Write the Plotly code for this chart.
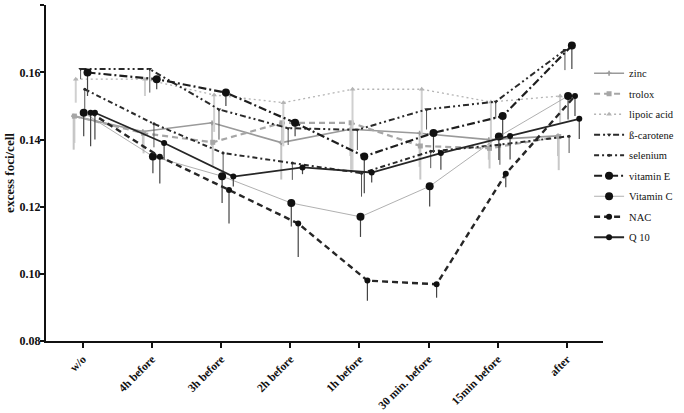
import plotly.graph_objects as go

categories = ["w/o", "4h before", "3h before", "2h before", "1h before",
              "30 min. before", "15min before", "after"]

zinc = [0.147, 0.1424, 0.145, 0.1391, 0.1431, 0.1419, 0.140, 0.1411]
trolox = [0.147, 0.1419, 0.1392, 0.145, 0.145, 0.1381, 0.1374, 0.1409]
lipoic_acid = [0.158, 0.158, 0.1533, 0.151, 0.155, 0.155, 0.1512, 0.153]
beta_carotene = [0.161, 0.161, 0.149, 0.1434, 0.1429, 0.149, 0.1513, 0.1667]
selenium = [0.155, 0.1447, 0.136, 0.133, 0.130, 0.1365, 0.1385, 0.141]
vitamin_e = [0.160, 0.158, 0.154, 0.145, 0.135, 0.142, 0.147, 0.168]
vitamin_c = [0.148, 0.135, 0.1291, 0.1211, 0.117, 0.1261, 0.1409, 0.153]
nac = [0.148, 0.1349, 0.125, 0.115, 0.098, 0.0969, 0.1298, 0.153]
q10 = [0.148, 0.139, 0.129, 0.1317, 0.1302, 0.136, 0.1411, 0.1462]

err_zinc = [0.010, 0.005, 0.007, 0.011, 0.008, 0.010, 0.006, 0.006]
err_trolox = [0.008, 0.006, 0.007, 0.006, 0.014, 0.010, 0.006, 0.010]
err_lipoic = [0.007, 0.005, 0.011, 0.013, 0.024, 0.014, 0.013, 0.008]
err_beta = [0.003, 0.007, 0.009, 0.005, 0.006, 0.006, 0.005, 0.006]
err_selenium = [0.007, 0.007, 0.007, 0.005, 0.007, 0.005, 0.006, 0.005]
err_vit_e = [0.007, 0.003, 0.004, 0.004, 0.011, 0.006, 0.007, 0.007]
err_vit_c = [0.007, 0.005, 0.008, 0.007, 0.006, 0.006, 0.007, 0.007]
err_nac = [0.010, 0.008, 0.010, 0.010, 0.006, 0.004, 0.004, 0.006]
err_q10 = [0.008, 0.005, 0.003, 0.002, 0.003, 0.005, 0.007, 0.006]

series = [
    ("zinc", zinc, err_zinc),
    ("trolox", trolox, err_trolox),
    ("lipoic acid", lipoic_acid, err_lipoic),
    ("ß-carotene", beta_carotene, err_beta),
    ("selenium", selenium, err_selenium),
    ("vitamin E", vitamin_e, err_vit_e),
    ("Vitamin C", vitamin_c, err_vit_c),
    ("NAC", nac, err_nac),
    ("Q 10", q10, err_q10),
]

# styles: (x offset, line color, width, dash, marker symbol, marker size, marker color, error color, error width)
styles = {
    "zinc": (-0.13, "#9a9a9a", 1.6, "solid", "cross", 4, "#9a9a9a", "#c4c4c4", 2),
    "trolox": (-0.12, "#a6a6a6", 2.2, "6px,4px", "square", 5, "#a6a6a6", "#c8c8c8", 2),
    "lipoic acid": (-0.10, "#b4b4b4", 1.3, "2px,3px", "triangle-up", 5, "#b4b4b4", "#d0d0d0", 2),
    "ß-carotene": (-0.03, "#2a2a2a", 2.0, "6px,3px,2px,3px,2px,3px", "triangle-down", 4, "#2a2a2a", "#555555", 1),
    "selenium": (0.03, "#2a2a2a", 2.0, "5px,3px,2px,3px", "circle", 3, "#2a2a2a", "#555555", 1),
    "vitamin E": (0.07, "#1e1e1e", 2.2, "8px,3px,2px,3px", "circle", 8, "#111111", "#444444", 1.2),
    "Vitamin C": (0.015, "#9c9c9c", 0.8, "solid", "circle", 8, "#111111", "#444444", 1.2),
    "NAC": (0.115, "#262626", 2.4, "6px,4px", "circle", 6, "#111111", "#444444", 1.2),
    "Q 10": (0.177, "#262626", 1.8, "solid", "circle", 6, "#111111", "#444444", 1.2),
}

fig = go.Figure()
for name, vals, errs in series:
    off, lc, lw, dash, sym, ms, mc, ec, ew = styles[name]
    xs = [i + off for i in range(len(categories))]
    fig.add_trace(go.Scatter(
        x=xs, y=vals, name=name, mode="lines+markers",
        line=dict(color=lc, width=lw, dash=dash),
        marker=dict(symbol=sym, size=ms, color=mc, line=dict(width=0)),
        error_y=dict(type="data", symmetric=False, array=[0] * len(errs),
                     arrayminus=errs, color=ec, thickness=ew, width=0),
        legendgroup=name,
    ))

font_serif = "Liberation Serif, Times New Roman, serif"

fig.update_layout(
    width=684, height=413,
    margin=dict(l=46, r=77, t=5, b=72),
    plot_bgcolor="white", paper_bgcolor="white",
    showlegend=True,
    legend=dict(x=0.975, xanchor="left", y=0.84, yanchor="top",
                font=dict(family=font_serif, size=10.5, color="#111111"),
                bgcolor="rgba(0,0,0,0)", tracegroupgap=1.5,
                itemwidth=30),
    font=dict(family=font_serif, color="#111111"),
)
fig.update_xaxes(
    range=[-0.53, 7.52], tickmode="array",
    tickvals=list(range(len(categories))), ticktext=categories,
    tickangle=-45, ticks="outside", ticklen=5, tickwidth=2, tickcolor="#111111",
    showline=True, linewidth=2, linecolor="#111111", showgrid=False, zeroline=False,
    automargin=False,
    tickfont=dict(family=font_serif, size=11.5, color="#111111", weight="bold"),
)
fig.update_yaxes(
    range=[0.08, 0.1801], tickmode="array",
    tickvals=[0.08, 0.10, 0.12, 0.14, 0.16, 0.18], tickformat=".2f",
    ticks="outside", ticklen=4, tickwidth=2, tickcolor="#111111",
    showline=True, linewidth=2, linecolor="#111111", showgrid=False, zeroline=False,
    automargin=False, ticklabelstandoff=-3,
    tickfont=dict(family=font_serif, size=12, color="#111111", weight="bold"),
    title=dict(text="excess foci/cell", standoff=2,
               font=dict(family=font_serif, size=13, color="#111111", weight="bold")),
)

fig.write_html("out.html", config={"displayModeBar": False},
               post_script="document.body.style.margin='0px';")
